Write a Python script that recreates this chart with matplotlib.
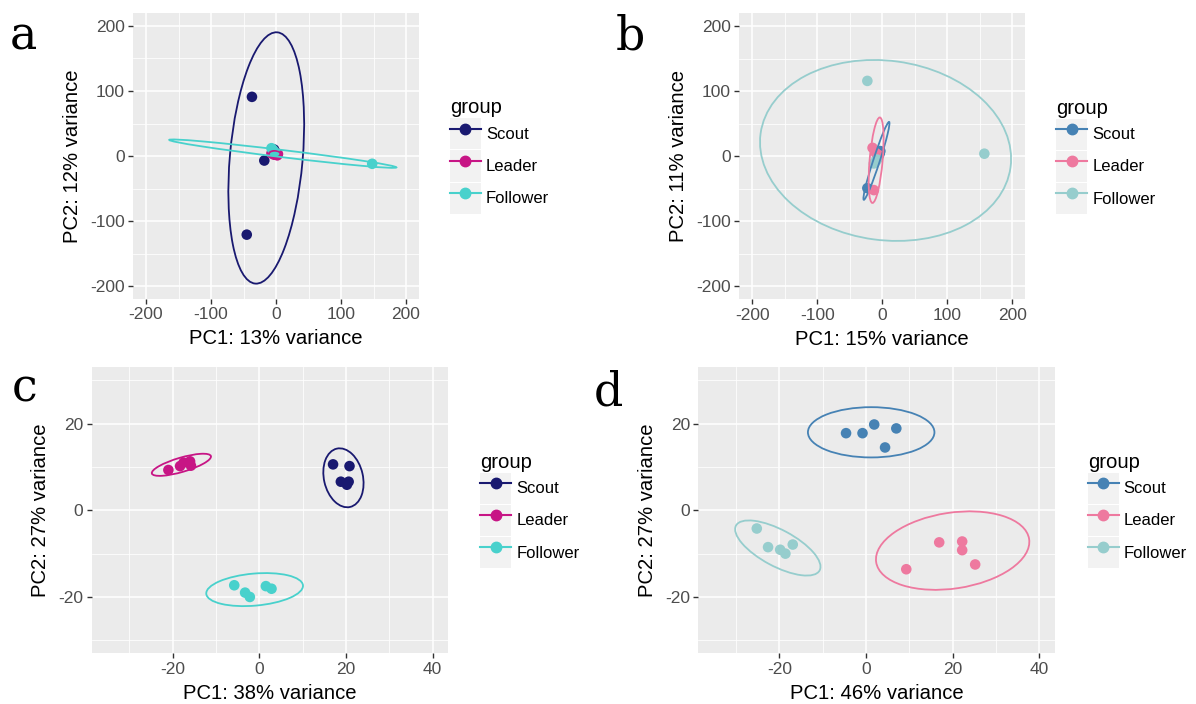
import matplotlib
matplotlib.use("Agg")
import matplotlib.pyplot as plt
from matplotlib.patches import Ellipse, Rectangle
from matplotlib.lines import Line2D
from matplotlib.legend_handler import HandlerTuple
from matplotlib.ticker import MultipleLocator

plt.rcParams['font.family'] = ['Liberation Sans', 'DejaVu Sans']
plt.rcParams['axes.unicode_minus'] = False

groups = ["Scout", "Leader", "Follower"]
colors_ac = ["#191970", "#C71585", "#48D1CC"]
colors_bd = ["#4682B4", "#EE799F", "#96CDCD"]

# panel a
a_scout_x = [-37, -45, -18, -3, 0]
a_scout_y = [91, -121, -7, 10, 5]
a_leader_x = [-7, -3, 0, 2, 3]
a_leader_y = [4, 2, 3, 1, 3]
a_follower_x = [148, -7, -4, -5, -2]
a_follower_y = [-12, 12, 8, 10, 6]
# ellipse: centre x, centre y, semi-major, semi-minor, angle (deg)
a_ellipses = [(-15, -3, 194, 56, 85), (-2, 3, 9, 5, 0), (10.5, 3.6, 176, 5.5, -6.9)]

# panel b
b_scout_x = [-23, -8, -4, -6, -3]
b_scout_y = [-49, -2, 4, 0, 8]
b_leader_x = [-15, -13, -8, -6, -10]
b_leader_y = [13, -52, -3, 2, 5]
b_follower_x = [-23, 157, -13, -8, -10]
b_follower_y = [116, 4, -11, -5, -8]
b_ellipses = [(-9, -7, 63, 5, 72), (-9.5, -6, 66, 10, 85), (5, 9, 194, 138, -7.7)]

# panel c
c_scout_x = [17, 20.8, 18.8, 20.2, 20.6]
c_scout_y = [10.6, 10.2, 6.6, 5.9, 6.6]
c_leader_x = [-21, -18.3, -17.5, -16, -15.8]
c_leader_y = [9.3, 10.2, 11, 11.3, 10.3]
c_follower_x = [-5.8, -3.3, -2.2, 1.5, 2.8]
c_follower_y = [-17.3, -19, -20, -17.5, -18.1]
c_ellipses = [(19.4, 7.5, 6.9, 4.5, 102.8), (-18, 10.5, 7.1, 1.65, 16.4), (-1.1, -18.3, 11.2, 3.7, 5)]

# panel d
d_scout_x = [-4.6, -0.8, 1.9, 7.0, 4.4]
d_scout_y = [17.8, 17.8, 19.8, 18.9, 14.5]
d_leader_x = [9.3, 16.9, 22.2, 22.2, 25.2]
d_leader_y = [-13.6, -7.4, -7.2, -9.2, -12.5]
d_follower_x = [-25.2, -22.6, -19.8, -18.6, -16.9]
d_follower_y = [-4.2, -8.5, -9.1, -10, -7.9]
d_ellipses = [(1.2, 18, 14.6, 5.8, 0), (20, -9.3, 17.85, 8.75, 8.6), (-20.35, -8.7, 10.95, 4.2, -28.2)]

pc_labels = {
    'a': ("PC1: 13% variance", "PC2: 12% variance"),
    'b': ("PC1: 15% variance", "PC2: 11% variance"),
    'c': ("PC1: 38% variance", "PC2: 27% variance"),
    'd': ("PC1: 46% variance", "PC2: 27% variance"),
}

W, H = 1196, 704
fig = plt.figure(figsize=(W / 100, H / 100), dpi=100)


def px_axes(x, y, w, h):
    return fig.add_axes([x / W, 1 - (y + h) / H, w / W, h / H])


def panel(ax, pts, ells, colors, xlabel, ylabel, lim_x, lim_y, major, minor, legend_dx):
    ax.set_facecolor("#EBEBEB")
    for s in ax.spines.values():
        s.set_visible(False)
    ax.xaxis.set_major_locator(MultipleLocator(major))
    ax.yaxis.set_major_locator(MultipleLocator(major))
    ax.xaxis.set_minor_locator(MultipleLocator(minor))
    ax.yaxis.set_minor_locator(MultipleLocator(minor))
    ax.grid(True, which='major', color='white', linewidth=1.1)
    ax.grid(True, which='minor', color='white', linewidth=0.55)
    ax.set_axisbelow(True)
    ax.tick_params(which='major', length=3.5, width=1, color='#333333', labelcolor='#4D4D4D', labelsize=12.5, pad=2.5)
    ax.tick_params(which='minor', length=0)
    for i in range(3):
        ax.scatter(pts[i][0], pts[i][1], s=58, color=colors[i], edgecolors='none', zorder=3)
    for i, (cx, cy, a, b, ang) in enumerate(ells):
        ax.add_patch(Ellipse((cx, cy), 2 * a, 2 * b, angle=ang, fill=False, edgecolor=colors[i], linewidth=1.3, zorder=4))
    ax.set_xlim(*lim_x)
    ax.set_ylim(*lim_y)
    ax.set_xlabel(xlabel, fontsize=14.6, labelpad=5)
    ax.set_ylabel(ylabel, fontsize=14.6, labelpad=6)
    handles = [(Rectangle((0, 0), 1, 1, facecolor='#F2F2F2', edgecolor='none'),
                Line2D([], [], color=c, marker='o', markersize=7.5, linewidth=1.5)) for c in colors]
    ax.legend(handles, groups, handler_map={tuple: HandlerTuple(ndivide=1)},
              loc='center left', bbox_to_anchor=(1 + legend_dx, 0.5), frameon=False,
              title='group', fontsize=12, title_fontsize=14.6, handlelength=1.85, handleheight=2.5,
              labelspacing=0.06, handletextpad=0.3, borderpad=0, borderaxespad=0, alignment='left')


ax_a = px_axes(133, 13, 286, 286)
panel(ax_a, [(a_scout_x, a_scout_y), (a_leader_x, a_leader_y), (a_follower_x, a_follower_y)], a_ellipses,
      colors_ac, *pc_labels['a'], (-220, 220), (-220, 220), 100, 50, 31 / 286)

ax_b = px_axes(739.3, 13.3, 286, 286)
panel(ax_b, [(b_scout_x, b_scout_y), (b_leader_x, b_leader_y), (b_follower_x, b_follower_y)], b_ellipses,
      colors_bd, *pc_labels['b'], (-220, 220), (-220, 220), 100, 50, 31 / 286)

ax_c = px_axes(91.7, 367.3, 356.6, 286)
panel(ax_c, [(c_scout_x, c_scout_y), (c_leader_x, c_leader_y), (c_follower_x, c_follower_y)], c_ellipses,
      colors_ac, *pc_labels['c'], (-38.7, 43.6), (-33, 33), 20, 10, 32 / 356.6)

ax_d = px_axes(698.3, 367.3, 356.6, 286)
panel(ax_d, [(d_scout_x, d_scout_y), (d_leader_x, d_leader_y), (d_follower_x, d_follower_y)], d_ellipses,
      colors_bd, *pc_labels['d'], (-38.7, 43.6), (-33, 33), 20, 10, 33 / 356.6)

# panel letters
for letter, x, y in [('a', 10, 50), ('b', 616, 50), ('c', 12, 402), ('d', 594, 405)]:
    fig.text(x / W, 1 - y / H, letter, fontsize=33, family='DejaVu Serif', va='baseline', ha='left')

fig.savefig("out.png", dpi=100)
